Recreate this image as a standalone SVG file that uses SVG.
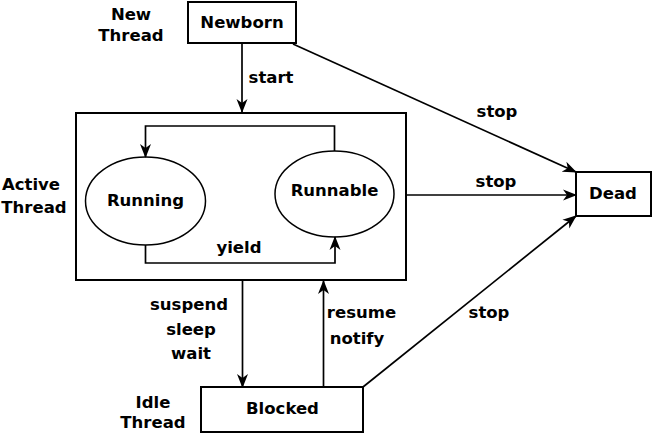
<svg xmlns="http://www.w3.org/2000/svg" width="653" height="434" viewBox="0 0 653 434">
<style>
text{font-family:"DejaVu Sans",sans-serif;font-weight:bold;font-size:16.5px;fill:#000;text-anchor:middle}
.box{fill:#fff;stroke:#000;stroke-width:2}
.ell{fill:#fff;stroke:#000;stroke-width:1.5}
.c{fill:none;stroke:#000;stroke-width:1.7;marker-end:url(#ah)}
</style>
<defs>
<marker id="ah" viewBox="0 0 14 12" refX="13" refY="6" markerWidth="14" markerHeight="12" markerUnits="userSpaceOnUse" orient="auto">
<path d="M0,0.5 L14,6 L0,11.5 L4,6 Z" fill="#000"/>
</marker>
</defs>
<rect width="653" height="434" fill="#fff"/>
<g id="active">
<rect class="box" x="76" y="113" width="330" height="167"/>
<text x="31" y="190">Active</text>
<text x="34" y="213">Thread</text>
</g>
<g id="newborn">
<rect class="box" x="188" y="2" width="108" height="41"/>
<text x="242" y="28">Newborn</text>
<text x="131" y="20">New</text>
<text x="131" y="41">Thread</text>
</g>
<g id="running">
<ellipse class="ell" cx="145.5" cy="201" rx="60" ry="44"/>
<text x="145.5" y="206">Running</text>
</g>
<g id="runnable">
<ellipse class="ell" cx="334.5" cy="194" rx="59.5" ry="43"/>
<text x="334.5" y="196">Runnable</text>
</g>
<g id="dead">
<rect class="box" x="576" y="172" width="75" height="44"/>
<text x="613" y="199">Dead</text>
</g>
<g id="blocked">
<rect class="box" x="201" y="387" width="162" height="45"/>
<text x="282.5" y="414">Blocked</text>
<text x="153" y="408">Idle</text>
<text x="153" y="428">Thread</text>
</g>
<g id="connectors">
<path class="c" d="M242,43 L242,112"/>
<text x="271" y="83">start</text>
<path class="c" d="M334.5,151 L334.5,126 L145.5,126 L145.5,157"/>
<path class="c" d="M145.5,245 L145.5,263 L335,263 L335,237"/>
<text x="239" y="253">yield</text>
<path class="c" d="M293,44 L576,172"/>
<text x="497" y="117">stop</text>
<path class="c" d="M406,195 L576,195"/>
<text x="496" y="187">stop</text>
<path class="c" d="M363,387 L576,216"/>
<text x="489" y="318">stop</text>
<path class="c" d="M242.5,281 L242.5,387"/>
<text x="189" y="310">suspend</text>
<text x="191" y="335">sleep</text>
<text x="191" y="359">wait</text>
<path class="c" d="M323.5,387 L323.5,281"/>
<text x="361.5" y="318">resume</text>
<text x="357" y="344">notify</text>
</g>
</svg>
